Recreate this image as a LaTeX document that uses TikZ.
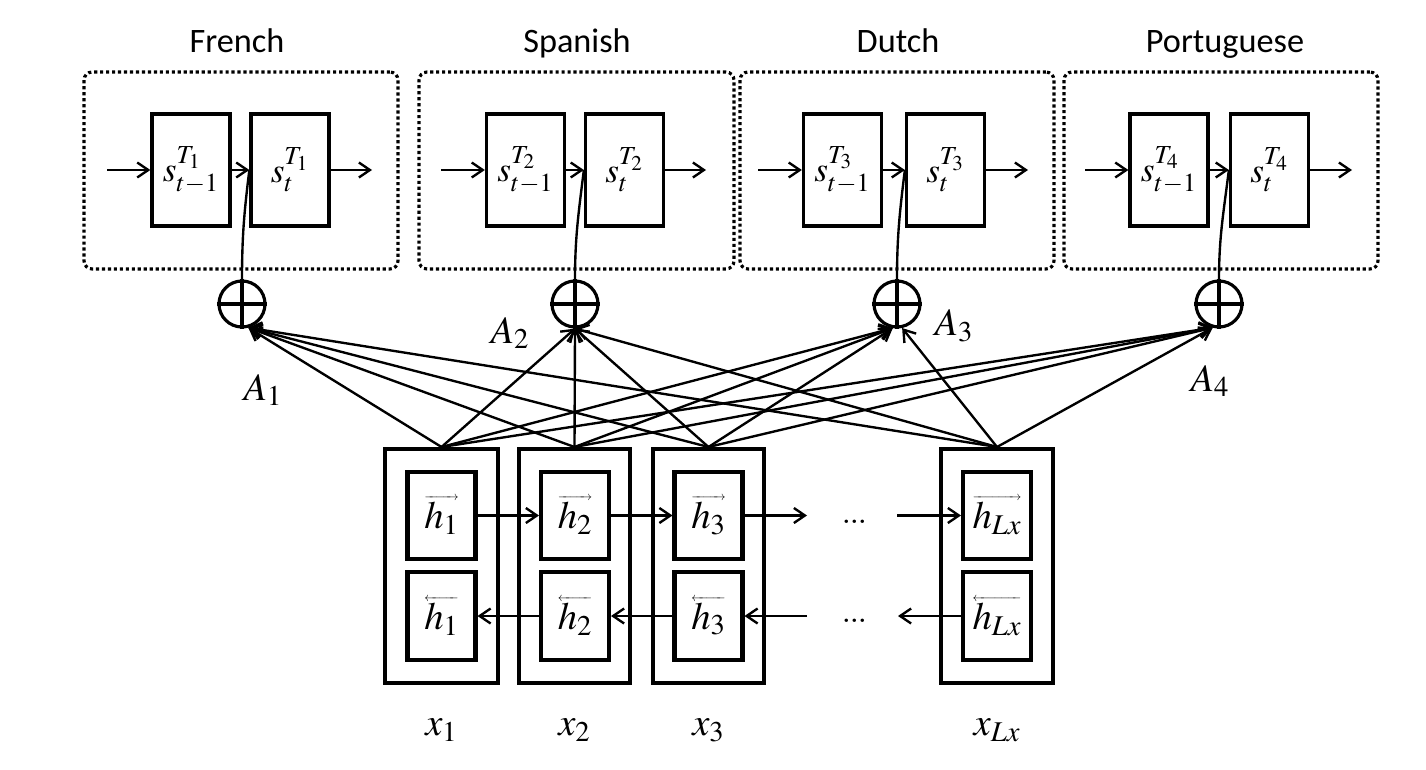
\documentclass[tikz,border=0pt]{standalone}
\usepackage{mathptmx}
\usepackage[no-math]{fontspec}
\newfontfamily\calibri{Carlito}
\usetikzlibrary{arrows.meta,calc}
\newcommand\hvr[1]{\setbox0\hbox{$#1$}\vbox{\offinterlineskip\hbox to\wd0{\scriptsize\rightarrowfill}\kern0.8pt\box0}}
\newcommand\hvl[1]{\setbox0\hbox{$#1$}\vbox{\offinterlineskip\hbox to\wd0{\scriptsize\leftarrowfill}\kern0.8pt\box0}}
\newcommand\sst[2]{s^{\raisebox{3pt}{$\scriptstyle #1$}}_{#2}}
\begin{document}
\begin{tikzpicture}[x=0.02cm,y=-0.02cm,
  sbox/.style={draw,line width=1.9pt,minimum width=1.56cm,minimum height=2.24cm,inner sep=0pt,font=\fontsize{20}{23}\selectfont},
  panel/.style={draw,line width=1.8pt,dash pattern=on 1.8pt off 1.6pt,rounded corners=0.16cm,minimum height=3.94cm,inner sep=0pt},
  outerbox/.style={draw,line width=2.3pt,minimum height=4.68cm,inner sep=0pt},
  hbox/.style={draw,line width=2.3pt,minimum width=1.36cm,minimum height=1.75cm,inner sep=0pt,font=\fontsize{22}{25}\selectfont},
  oplus/.style={circle,draw,line width=1.8pt,minimum size=0.92cm,inner sep=0pt},
  arr/.style={line width=1.35pt,-{Straight Barb[length=0.22cm,width=0.3cm,line width=1.35pt]}},
  plain/.style={line width=1.35pt},
  lbl/.style={font=\fontsize{22}{26}\selectfont,inner sep=0pt},
  title/.style={font=\calibri\fontsize{19.5}{23}\selectfont,inner sep=0pt,anchor=base},
  dotsnode/.style={font=\fontsize{24}{24}\selectfont,inner sep=0pt,anchor=base},
]
\fill[white] (0,0) rectangle (1426,770);
\useasboundingbox (0,0) rectangle (1426,770);

% titles
\node[title] (t1) at (237,53) {French};
\node[title] (t2) at (577,53) {Spanish};
\node[title] (t3) at (898,53) {Dutch};
\node[title] (t4) at (1225,53) {Portuguese};

% panels
\node[panel,minimum width=6.28cm] (p1) at (241,170.5) {};
\node[panel,minimum width=6.30cm] (p2) at (576.5,170.5) {};
\node[panel,minimum width=6.28cm] (p3) at (897,170.5) {};
\node[panel,minimum width=6.28cm] (p4) at (1221,170.5) {};

% decoder state boxes
\node[sbox] (L1) at (191,170) {$\sst{T_1}{t-1}$};
\node[sbox] (R1) at (290,170) {$\sst{T_1}{t}$};
\node[sbox] (L2) at (525.5,170) {$\sst{T_2}{t-1}$};
\node[sbox] (R2) at (624.5,170) {$\sst{T_2}{t}$};
\node[sbox] (L3) at (842.5,170) {$\sst{T_3}{t-1}$};
\node[sbox] (R3) at (945.5,170) {$\sst{T_3}{t}$};
\node[sbox] (L4) at (1169,170) {$\sst{T_4}{t-1}$};
\node[sbox] (R4) at (1269.5,170) {$\sst{T_4}{t}$};

\coordinate (in1) at (107,170);  \coordinate (out1) at (372,170);
\coordinate (in2) at (441,170);  \coordinate (out2) at (706,170);
\coordinate (in3) at (758,170);  \coordinate (out3) at (1028,170);
\coordinate (in4) at (1085,170); \coordinate (out4) at (1352,170);

\foreach \i in {1,2,3,4}{
  \draw[arr] (in\i) -- (L\i);
  \draw[arr] (L\i) -- (R\i);
  \draw[arr] (R\i) -- (out\i);
}

% oplus nodes
\node[oplus] (o1) at (242,304) {};
\node[oplus] (o2) at (575,304) {};
\node[oplus] (o3) at (897,304) {};
\node[oplus] (o4) at (1219,304) {};
\foreach \i in {1,2,3,4}{
  \draw[line width=1.8pt] (o\i.north) -- (o\i.south);
  \draw[line width=1.8pt] (o\i.west) -- (o\i.east);
  \draw[plain] (o\i.north) to[out=90,in=-97] (R\i.west);
}

% encoder
\node[outerbox,minimum width=2.26cm] (b1) at (441.5,566) {};
\node[outerbox,minimum width=2.22cm] (b2) at (574.5,566) {};
\node[outerbox,minimum width=2.22cm] (b3) at (708.5,566) {};
\node[outerbox,minimum width=2.24cm] (bL) at (997,566) {};

\node[hbox] (f1) at (441.5,515.5) {$\hvr{h_1}$};
\node[hbox] (f2) at (575,515.5) {$\hvr{h_2}$};
\node[hbox] (f3) at (708.5,515.5) {$\hvr{h_3}$};
\node[hbox] (fL) at (997,515.5) {$\hvr{h_{Lx}}$};
\node[hbox] (g1) at (441.5,616) {$\hvl{h_1}$};
\node[hbox] (g2) at (575,616) {$\hvl{h_2}$};
\node[hbox] (g3) at (708.5,616) {$\hvl{h_3}$};
\node[hbox] (gL) at (997,616) {$\hvl{h_{Lx}}$};

\coordinate (fe) at (807,515.5);
\coordinate (fs) at (897,515.5);
\coordinate (ge) at (898,616);
\coordinate (gs) at (807,616);

\draw[arr] (f1) -- (f2);
\draw[arr] (f2) -- (f3);
\draw[arr] (f3) -- (fe);
\draw[arr] (fs) -- (fL);
\draw[arr] (gL) -- (ge);
\draw[arr] (gs) -- (g3);
\draw[arr] (g3) -- (g2);
\draw[arr] (g2) -- (g1);

\node[dotsnode] (d1) at (855,523) {.\kern-1.5pt.\kern-1.5pt.};
\node[dotsnode] (d2) at (855,622) {.\kern-1.5pt.\kern-1.5pt.};

% inputs
\node[lbl] (x1) at (441.5,730) {$x_1$};
\node[lbl] (x2) at (574.5,730) {$x_2$};
\node[lbl] (x3) at (708.5,730) {$x_3$};
\node[lbl] (xL) at (997,730) {$x_{Lx}$};

% attention connections
\foreach \b in {b1,b2,b3,bL}{
  \draw[arr] (\b.north) -- (o1.-75);
  \draw[arr] (\b.north) -- (o2.south);
  \draw[arr] (\b.north) -- (o4.-105);
}
\foreach \b in {b1,b2,b3}{
  \draw[arr] (\b.north) -- (o3.-100);
}
\draw[arr] (bL.north) -- (o3.-78);

% attention labels
\node[lbl] (a1) at (263,390) {$A_1$};
\node[lbl] (a2) at (510,333) {$A_2$};
\node[lbl] (a3) at (954,326) {$A_3$};
\node[lbl] (a4) at (1210,381) {$A_4$};
\end{tikzpicture}
\end{document}
